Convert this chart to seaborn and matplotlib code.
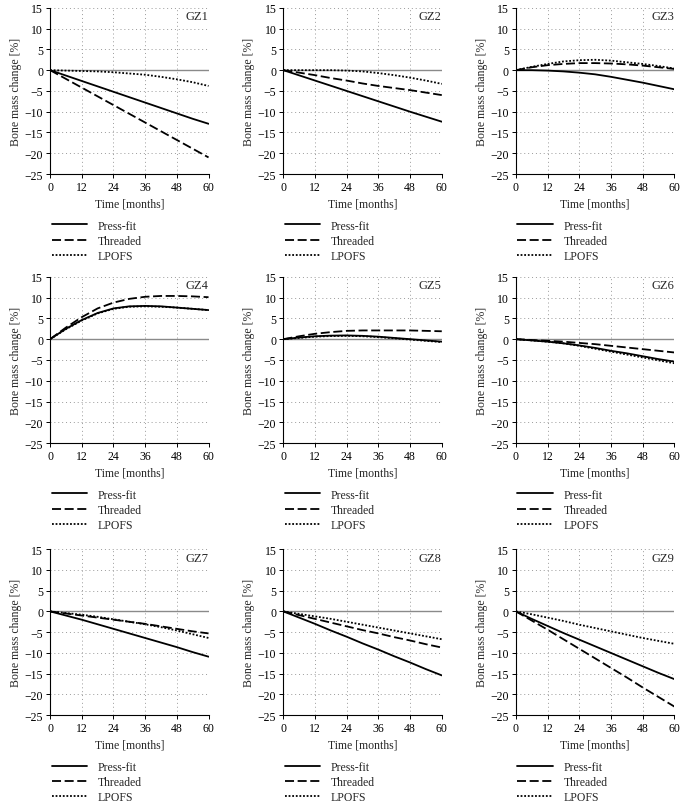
import numpy as np
import pandas as pd
import matplotlib
matplotlib.use("Agg")
import matplotlib.pyplot as plt
import seaborn as sns

sns.set_style("ticks")
plt.rcParams.update(
    {
        "font.family": ["Liberation Serif", "DejaVu Serif"],
        "font.size": 8.5,
        "axes.linewidth": 0.8,
        "xtick.major.size": 3,
        "ytick.major.size": 3,
        "xtick.major.width": 0.7,
        "ytick.major.width": 0.7,
        "xtick.color": "black",
        "ytick.color": "black",
        "axes.edgecolor": "black",
    }
)

# ── Data (bone mass change [%]) ──────────────────────────────────────────────
MONTHS = [0, 6, 12, 18, 24, 30, 36, 42, 48, 54, 60]
ZONES = ["GZ1", "GZ2", "GZ3", "GZ4", "GZ5", "GZ6", "GZ7", "GZ8", "GZ9"]
IMPLANTS = ["Press-fit", "Threaded", "LPOFS"]

press_fit = {
    "GZ1": [0, -1.3, -2.6, -3.9, -5.2, -6.5, -7.8, -9.1, -10.4, -11.7, -12.9],
    "GZ2": [0, -1.25, -2.5, -3.75, -5.0, -6.25, -7.5, -8.75, -10.0, -11.2, -12.4],
    "GZ3": [0, 0.0, -0.1, -0.3, -0.6, -1.0, -1.6, -2.3, -3.0, -3.8, -4.6],
    "GZ4": [0, 2.5, 4.6, 6.3, 7.4, 7.9, 8.0, 7.9, 7.6, 7.3, 7.0],
    "GZ5": [0, 0.4, 0.7, 0.85, 0.9, 0.8, 0.6, 0.3, 0.0, -0.3, -0.6],
    "GZ6": [0, -0.3, -0.6, -1.0, -1.5, -2.1, -2.8, -3.4, -4.1, -4.8, -5.4],
    "GZ7": [0, -1.0, -2.0, -3.1, -4.2, -5.3, -6.4, -7.5, -8.6, -9.8, -10.9],
    "GZ8": [0, -1.5, -3.0, -4.6, -6.1, -7.7, -9.2, -10.8, -12.3, -13.9, -15.4],
    "GZ9": [0, -1.8, -3.5, -5.2, -6.8, -8.4, -10.0, -11.6, -13.2, -14.8, -16.3],
}
threaded = {
    "GZ1": [0, -2.1, -4.2, -6.3, -8.4, -10.5, -12.6, -14.7, -16.8, -18.9, -21.0],
    "GZ2": [0, -0.6, -1.2, -1.9, -2.5, -3.2, -3.8, -4.3, -4.8, -5.4, -6.0],
    "GZ3": [0, 0.7, 1.2, 1.5, 1.7, 1.7, 1.6, 1.4, 1.1, 0.7, 0.3],
    "GZ4": [0, 2.8, 5.3, 7.4, 8.8, 9.7, 10.2, 10.4, 10.4, 10.3, 10.1],
    "GZ5": [0, 0.7, 1.3, 1.7, 2.0, 2.1, 2.1, 2.1, 2.1, 2.0, 1.9],
    "GZ6": [0, -0.2, -0.4, -0.6, -0.9, -1.2, -1.6, -2.0, -2.4, -2.8, -3.2],
    "GZ7": [0, -0.5, -1.0, -1.5, -2.0, -2.5, -3.0, -3.6, -4.2, -4.8, -5.3],
    "GZ8": [0, -0.9, -1.8, -2.7, -3.6, -4.5, -5.3, -6.2, -7.0, -7.9, -8.7],
    "GZ9": [0, -2.2, -4.4, -6.7, -9.0, -11.3, -13.6, -15.9, -18.3, -20.6, -22.9],
}
lpofs = {
    "GZ1": [0, -0.1, -0.2, -0.3, -0.5, -0.8, -1.1, -1.6, -2.2, -2.9, -3.8],
    "GZ2": [0, 0.0, 0.0, 0.0, -0.1, -0.3, -0.7, -1.2, -1.8, -2.5, -3.3],
    "GZ3": [0, 0.8, 1.5, 2.1, 2.4, 2.5, 2.3, 1.9, 1.5, 1.0, 0.4],
    "GZ4": [0, 2.4, 4.5, 6.2, 7.3, 7.8, 7.9, 7.8, 7.6, 7.3, 7.0],
    "GZ5": [0, 0.3, 0.6, 0.75, 0.8, 0.7, 0.5, 0.2, -0.1, -0.4, -0.7],
    "GZ6": [0, -0.3, -0.6, -1.0, -1.6, -2.3, -3.0, -3.7, -4.4, -5.1, -5.8],
    "GZ7": [0, -0.4, -0.8, -1.3, -1.9, -2.5, -3.1, -3.8, -4.6, -5.5, -6.4],
    "GZ8": [0, -0.6, -1.2, -1.8, -2.5, -3.2, -3.9, -4.6, -5.3, -6.0, -6.7],
    "GZ9": [0, -0.7, -1.5, -2.3, -3.2, -4.0, -4.8, -5.6, -6.4, -7.1, -7.8],
}

X_TICKS = [0, 12, 24, 36, 48, 60]
Y_TICKS = [-25, -20, -15, -10, -5, 0, 5, 10, 15]

SERIES = {"Press-fit": press_fit, "Threaded": threaded, "LPOFS": lpofs}
DASHES = {"Press-fit": "", "Threaded": (5, 2), "LPOFS": (1, 1)}

# long-form table for seaborn
rows = []
for zone in ZONES:
    for imp in IMPLANTS:
        for m, v in zip(MONTHS, SERIES[imp][zone]):
            rows.append({"zone": zone, "implant": imp, "month": m, "change": v})
df = pd.DataFrame(rows)

# ── Layout (figure fractions) ────────────────────────────────────────────────
LEFTS = [0.073, 0.413, 0.752]
BOTTOMS = [0.782, 0.447, 0.108]
W, H = 0.231, 0.207

fig = plt.figure(figsize=(6.86, 8.03), dpi=100)

for i, zone in enumerate(ZONES):
    r, c = divmod(i, 3)
    ax = fig.add_axes([LEFTS[c], BOTTOMS[r], W, H])

    ax.axhline(0, color="#8a8a8a", linewidth=1.0, zorder=1)
    sns.lineplot(
        data=df[df["zone"] == zone],
        x="month",
        y="change",
        style="implant",
        style_order=IMPLANTS,
        dashes=DASHES,
        color="black",
        linewidth=1.3,
        ax=ax,
        legend=True,
        zorder=3,
    )

    ax.set_xlim(0, 60)
    ax.set_ylim(-25, 15)
    ax.set_xticks(X_TICKS)
    ax.set_yticks(Y_TICKS)
    ax.set_yticklabels([f"{t}".replace("-", "\u2212") for t in Y_TICKS])
    ax.tick_params(labelsize=8.5, pad=2)
    ax.grid(True, linestyle=(0, (1, 3)), color="#9a9a9a", linewidth=0.7)
    ax.set_axisbelow(True)
    sns.despine(ax=ax)

    ax.set_xlabel("Time [months]", fontsize=8.5, labelpad=3)
    ax.set_ylabel("Bone mass change [%]", fontsize=8.5, labelpad=2)
    ax.text(1.0, 0.985, zone, transform=ax.transAxes, ha="right", va="top",
            fontsize=9)

    ax.legend(
        loc="upper left",
        bbox_to_anchor=(-0.02, -0.245),
        frameon=False,
        fontsize=8.5,
        handlelength=3.0,
        handletextpad=0.9,
        labelspacing=0.28,
        borderaxespad=0,
    )

fig.savefig("out.png", dpi=100, facecolor="white")
